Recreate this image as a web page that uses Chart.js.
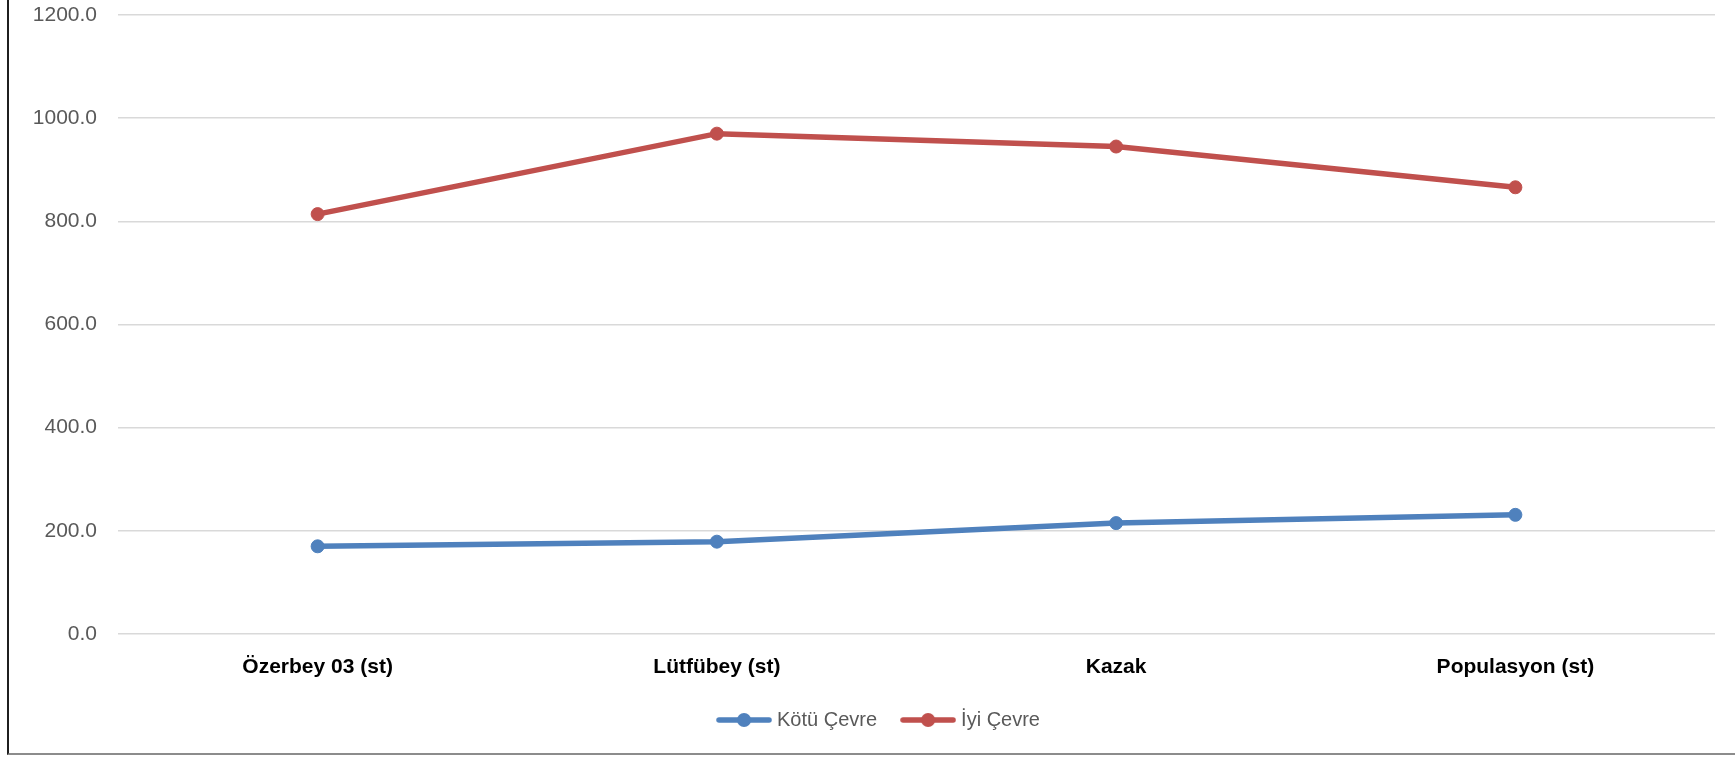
<!DOCTYPE html>
<html>
<head>
<meta charset="utf-8">
<script src="https://cdn.jsdelivr.net/npm/chart.js@4/dist/chart.umd.min.js"></script>
<style>
  body { margin: 0; background: #fff; }
  #frame { position: absolute; left: 7px; top: -2px; width: 1740px; height: 757px;
           border-left: 2px solid #1f1f1f; border-bottom: 2px solid #8c8c8c; box-sizing: border-box; }
  #wrap { position: absolute; left: 0; top: 0; width: 1735px; height: 757px; }
</style>
</head>
<body>
<div id="frame"></div>
<div id="wrap"><canvas id="chart"></canvas></div>
<script>
// values
const kategoriler = ['Özerbey 03 (st)', 'Lütfübey (st)', 'Kazak', 'Populasyon (st)'];
const kotuCevre = [170, 179, 215, 231];
const iyiCevre = [814, 970, 945, 866];
const seriAdlari = ['Kötü Çevre', 'İyi Çevre'];
const yTicks = [0, 200, 400, 600, 800, 1000, 1200];

const mavi = '#4f81bd';
const kirmizi = '#c0504d';

// legend marker: short line with a dot on it, like the excel legend
function legendIcon(color) {
  const c = document.createElement('canvas');
  c.width = 56;
  c.height = 16;
  const ctx = c.getContext('2d');
  ctx.strokeStyle = color;
  ctx.lineWidth = 5.5;
  ctx.lineCap = 'round';
  ctx.beginPath();
  ctx.moveTo(3, 8);
  ctx.lineTo(53, 8);
  ctx.stroke();
  ctx.fillStyle = color;
  ctx.beginPath();
  ctx.arc(28, 8, 7, 0, Math.PI * 2);
  ctx.fill();
  return c;
}

const ikonlar = [legendIcon(mavi), legendIcon(kirmizi)];

// legend sits a bit right of the canvas centre in the original
const legendShift = {
  id: 'legendShift',
  afterLayout: (chart) => { chart.legend.left += 18; }
};

new Chart(document.getElementById('chart'), {
  type: 'line',
  data: {
    labels: kategoriler,
    datasets: [{
      label: seriAdlari[0],
      data: kotuCevre,
      borderColor: mavi,
      backgroundColor: mavi,
      borderWidth: 5.5,
      pointRadius: 6.5,
      pointBorderWidth: 1,
      pointStyle: 'circle',
      tension: 0
    }, {
      label: seriAdlari[1],
      data: iyiCevre,
      borderColor: kirmizi,
      backgroundColor: kirmizi,
      borderWidth: 5.5,
      pointRadius: 6.5,
      pointBorderWidth: 1,
      pointStyle: 'circle',
      tension: 0
    }]
  },
  plugins: [legendShift],
  options: {
    responsive: true,
    maintainAspectRatio: false,
    animation: false,
    layout: { padding: { left: 28, right: 20, top: 15, bottom: 17 } },
    plugins: {
      tooltip: { enabled: false },
      legend: {
        position: 'bottom',
        labels: {
          usePointStyle: true,
          pointStyleWidth: 46,
          padding: 28,
          color: '#595959',
          font: { family: 'Liberation Sans', size: 20 },
          generateLabels: (chart) => chart.data.datasets.map((ds, i) => ({
            text: ds.label,
            pointStyle: ikonlar[i],
            fillStyle: ds.borderColor,
            strokeStyle: ds.borderColor,
            fontColor: '#595959',
            lineWidth: 0,
            hidden: false,
            datasetIndex: i
          }))
        }
      }
    },
    scales: {
      x: {
        offset: true,
        grid: { display: false, drawTicks: false },
        border: { display: false },
        ticks: {
          padding: 21,
          color: '#000',
          font: { family: 'Liberation Sans', size: 21, weight: 'bold' }
        },
        afterFit: (s) => { s.height = 48; }
      },
      y: {
        min: 0,
        max: 1200,
        afterBuildTicks: (s) => { s.ticks = yTicks.map(v => ({ value: v })); },
        grid: { color: '#d9d9d9', lineWidth: 1.5, drawTicks: true, tickLength: 21, tickColor: 'rgba(0,0,0,0)' },
        border: { display: false },
        ticks: {
          padding: 0,
          color: '#595959',
          font: { family: 'Liberation Sans', size: 21 },
          callback: (v) => v.toFixed(1)
        },
        afterFit: (s) => { s.width = 90; }
      }
    }
  }
});
</script>
</body>
</html>
